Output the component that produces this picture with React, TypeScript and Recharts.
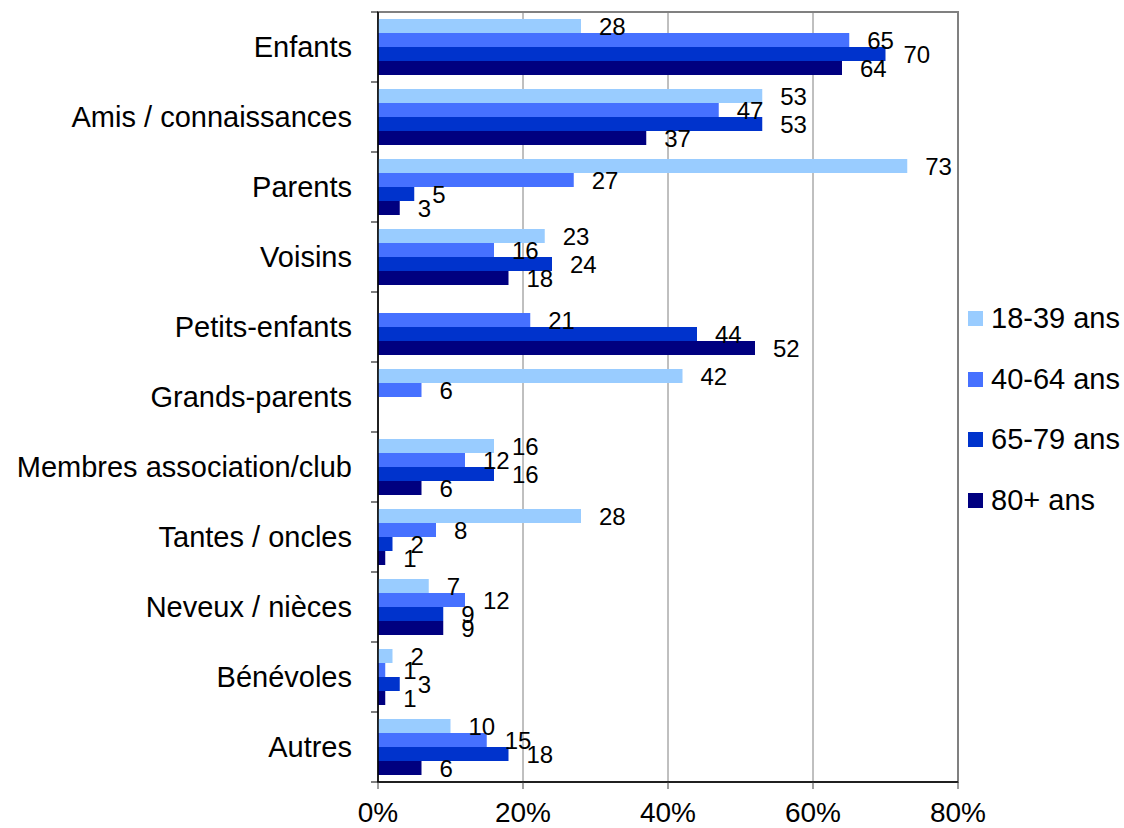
import { BarChart, Bar, XAxis, YAxis, CartesianGrid, LabelList, ReferenceArea } from 'recharts'

const categories = [
  'Enfants',
  'Amis / connaissances',
  'Parents',
  'Voisins',
  'Petits-enfants',
  'Grands-parents',
  'Membres association/club',
  'Tantes / oncles',
  'Neveux / nièces',
  'Bénévoles',
  'Autres',
]

const ans18to39 = [28, 53, 73, 23, null, 42, 16, 28, 7, 2, 10]
const ans40to64 = [65, 47, 27, 16, 21, 6, 12, 8, 12, 1, 15]
const ans65to79 = [70, 53, 5, 24, 44, null, 16, 2, 9, 3, 18]
const ans80plus = [64, 37, 3, 18, 52, null, 6, 1, 9, 1, 6]

const xTicks = [0, 20, 40, 60, 80]

const series = [
  { key: 'a18', name: '18-39 ans', color: '#99CCFF' },
  { key: 'a40', name: '40-64 ans', color: '#4671FF' },
  { key: 'a65', name: '65-79 ans', color: '#0033CC' },
  { key: 'a80', name: '80+ ans', color: '#000080' },
]

const chartData = categories.map((name, i) => ({
  name,
  a18: ans18to39[i],
  a40: ans40to64[i],
  a65: ans65to79[i],
  a80: ans80plus[i],
}))

const W = 1124
const H = 828
const MARGIN = { top: 12, right: 166, left: 0, bottom: 0 }
const X_AXIS_H = 46
const Y_AXIS_W = 378
const FONT = '"Liberation Sans", Arial, sans-serif'
const band = (H - MARGIN.top - MARGIN.bottom - X_AXIS_H) / categories.length

// category label plus tick marks on the band boundaries
const CategoryTick = (props: any) => {
  const { x, y, payload, index } = props
  const axisX = x + 26
  return (
    <g>
      <text
        x={x}
        y={y}
        textAnchor="end"
        dominantBaseline="central"
        fontSize={29}
        fontFamily={FONT}
        fill="#000"
      >
        {payload.value}
      </text>
      <line x1={axisX - 7} x2={axisX} y1={y - band / 2} y2={y - band / 2} stroke="#000" />
      {index === categories.length - 1 && (
        <line x1={axisX - 7} x2={axisX} y1={y + band / 2} y2={y + band / 2} stroke="#000" />
      )}
    </g>
  )
}

// legend sits to the right of the plot, outside the chart svg
const LegendBox = () => (
  <div
    style={{
      position: 'absolute',
      left: 968,
      top: 288,
      fontFamily: FONT,
      fontSize: 29,
      color: '#000',
    }}
  >
    {series.map(s => (
      <div key={s.key} style={{ height: 60.7, display: 'flex', alignItems: 'center' }}>
        <span
          style={{ width: 15, height: 15, background: s.color, display: 'inline-block', marginRight: 8 }}
        />
        <span>{s.name}</span>
      </div>
    ))}
  </div>
)

export default function App() {
  return (
    <div style={{ position: 'absolute', left: 0, top: 0, width: W, height: H, background: '#fff' }}>
      <BarChart
        width={W}
        height={H}
        data={chartData}
        layout="vertical"
        margin={MARGIN}
        barCategoryGap="10%"
        barGap={0}
      >
        <CartesianGrid horizontal={false} stroke="#808080" strokeWidth={1} />
        <ReferenceArea x1={0} x2={80} fill="none" stroke="#808080" strokeWidth={2} ifOverflow="visible" />
        <XAxis
          type="number"
          domain={[0, 80]}
          ticks={xTicks}
          tickFormatter={v => `${v}%`}
          height={X_AXIS_H}
          axisLine={{ stroke: '#000', strokeWidth: 1.5 }}
          tickLine={{ stroke: '#404040' }}
          tickSize={7}
          tickMargin={13}
          tick={{ fontSize: 28, fill: '#000', fontFamily: FONT }}
          interval={0}
        />
        <YAxis
          type="category"
          dataKey="name"
          width={Y_AXIS_W}
          tickSize={0}
          tickMargin={26}
          tickLine={false}
          axisLine={{ stroke: '#000', strokeWidth: 1.5 }}
          tick={<CategoryTick />}
          interval={0}
        />
        {series.map(s => (
          <Bar key={s.key} dataKey={s.key} name={s.name} fill={s.color} isAnimationActive={false}>
            <LabelList
              dataKey={s.key}
              position="right"
              offset={18}
              style={{ fontSize: 24, fill: '#000', fontFamily: FONT }}
            />
          </Bar>
        ))}
      </BarChart>
      <LegendBox />
    </div>
  )
}
